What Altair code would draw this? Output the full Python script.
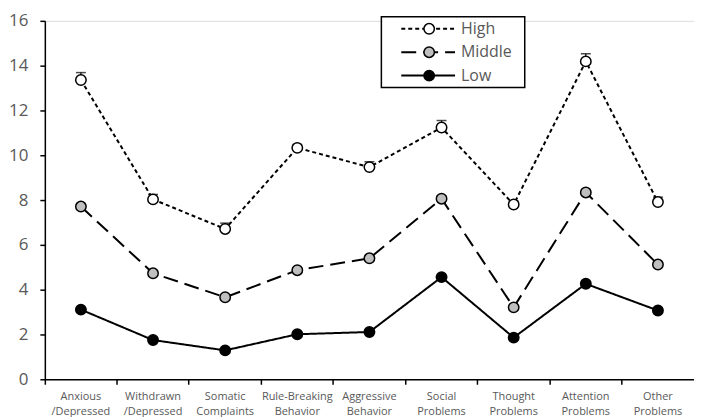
import altair as alt
import pandas as pd

categories = ["Anxious /Depressed", "Withdrawn /Depressed", "Somatic Complaints",
              "Rule-Breaking Behavior", "Aggressive Behavior", "Social Problems",
              "Thought Problems", "Attention Problems", "Other Problems"]
groups = ["High", "Middle", "Low"]

high = [13.36, 8.03, 6.71, 10.33, 9.47, 11.24, 7.80, 14.19, 7.91]
high_err = [0.33, 0.22, 0.26, 0.15, 0.24, 0.31, 0.15, 0.34, 0.22]
middle = [7.71, 4.73, 3.66, 4.87, 5.40, 8.06, 3.21, 8.34, 5.12]
middle_err = [0.12, 0.10, 0.09, 0.10, 0.10, 0.13, 0.09, 0.13, 0.10]
low = [3.11, 1.75, 1.29, 2.01, 2.11, 4.56, 1.86, 4.26, 3.07]
low_err = [0.06, 0.05, 0.04, 0.05, 0.05, 0.07, 0.05, 0.07, 0.06]

rows = []
for g, vals, errs in [("High", high, high_err), ("Middle", middle, middle_err), ("Low", low, low_err)]:
    for c, v, e in zip(categories, vals, errs):
        rows.append({"category": c, "group": g, "value": v, "top": v + e})
df = pd.DataFrame(rows)

FONT = "Open Sans"
TXT = "#595959"

x = alt.X("category:N", sort=categories, title=None,
          scale=alt.Scale(paddingInner=0, paddingOuter=0),
          axis=alt.Axis(labelAngle=0, labelExpr="split(datum.label, ' ')",
                        bandPosition=0, tickSize=5, tickColor="black", domainColor="black",
                        domainWidth=1.5, tickWidth=1.5, labelFont=FONT, labelFontSize=11,
                        labelColor=TXT, labelPadding=6, labelLineHeight=15, grid=False))
y = alt.Y("value:Q", title=None,
          scale=alt.Scale(domain=[0, 16], nice=False),
          axis=alt.Axis(values=list(range(0, 17, 2)), tickSize=5, tickColor="black",
                        domainColor="black", domainWidth=1.5, tickWidth=1.5,
                        labelFont=FONT, labelFontSize=17, labelColor=TXT,
                        labelPadding=12, grid=False))

base = alt.Chart(df)

err_rule = base.mark_rule(color="black", strokeWidth=1.2).encode(x=x, y=y, y2="top:Q")
err_cap = base.mark_tick(color="black", size=10, thickness=1.5).encode(
    x=x, y=alt.Y("top:Q", scale=alt.Scale(domain=[0, 16], nice=False)))

lines = base.mark_line(color="black", strokeWidth=2).encode(
    x=x, y=y, detail="group:N",
    strokeDash=alt.StrokeDash("group:N", scale=alt.Scale(domain=groups, range=[[4, 3], [15, 7], [1, 0]]),
                              legend=None))
points = base.mark_point(shape="circle", filled=True, size=110, stroke="black",
                         strokeWidth=1.5, opacity=1).encode(
    x=x, y=y,
    fill=alt.Fill("group:N", scale=alt.Scale(domain=groups, range=["white", "#bfbfbf", "black"]),
                  legend=None))

one = alt.Chart(pd.DataFrame({"a": [0]}))
box = one.mark_rect(fill="white", stroke="black", strokeWidth=1.5).encode(
    x=alt.value(338), x2=alt.value(482), y=alt.value(-4), y2=alt.value(67))

legend_layers = [box]
dashes = [[4, 3], [15, 7], [1, 0]]
fills = ["white", "#bfbfbf", "black"]
for i, g in enumerate(groups):
    ypos = 8 + i * 23.5
    legend_layers.append(one.mark_rule(color="black", strokeWidth=2, strokeDash=dashes[i]).encode(
        x=alt.value(358), x2=alt.value(412), y=alt.value(ypos)))
    legend_layers.append(one.mark_point(shape="circle", filled=True, size=110, stroke="black",
                                        strokeWidth=1.5, fill=fills[i], opacity=1).encode(
        x=alt.value(386), y=alt.value(ypos)))
    legend_layers.append(one.mark_text(text=g, align="left", baseline="middle", font=FONT,
                                       fontSize=16, color=TXT).encode(
        x=alt.value(418), y=alt.value(ypos)))

chart = alt.layer(err_rule, err_cap, lines, points, *legend_layers).properties(
    width=652, height=360, padding={"left": 0, "top": 3, "right": 0, "bottom": 0}
).configure_view(stroke=None).configure(background="white")

chart.save("out.html", embed_options={"renderer": "svg", "actions": False})
